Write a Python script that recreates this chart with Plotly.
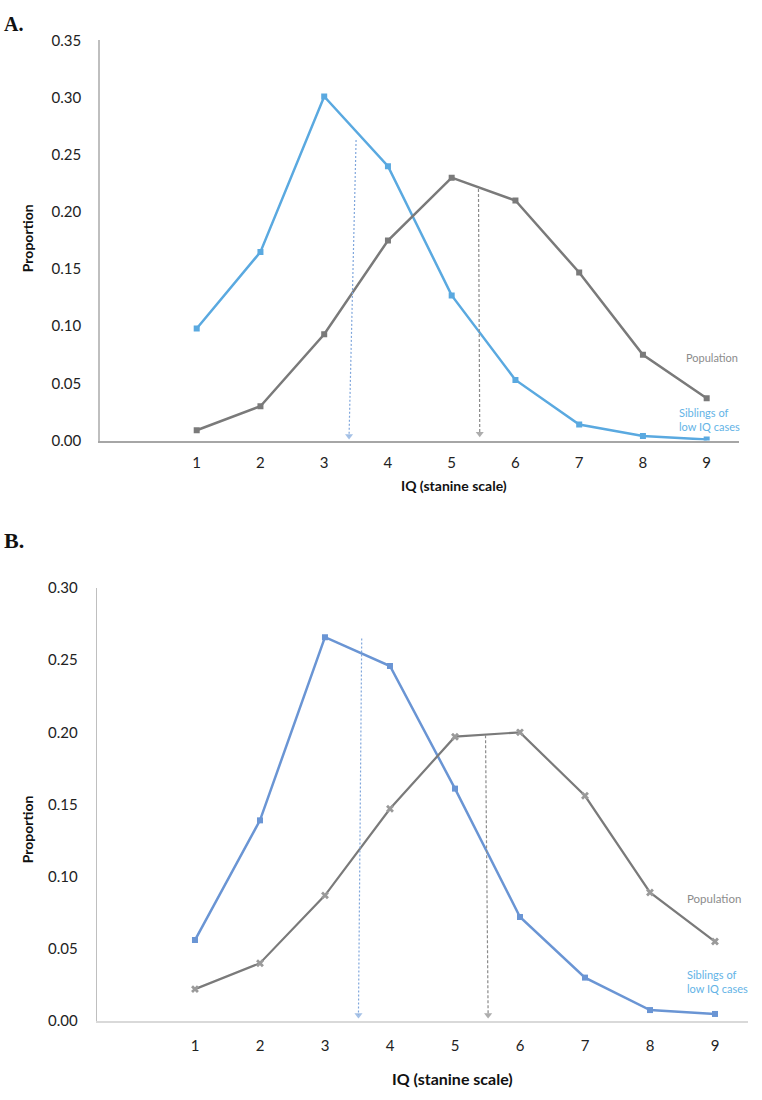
import plotly.graph_objects as go

W, H = 762, 1100

# ---------------- data ----------------
stanine = [1, 2, 3, 4, 5, 6, 7, 8, 9]
tick_text = ["1", "2", "3", "4", "5", "6", "7", "8", "9"]

# Panel A
a_siblings = [0.098, 0.165, 0.301, 0.240, 0.127, 0.053, 0.014, 0.004, 0.001]
a_population = [0.009, 0.030, 0.093, 0.175, 0.230, 0.210, 0.147, 0.075, 0.037]
a_sib_mean_x = [3.50, 3.39]
a_sib_mean_y = [0.263, 0.004]
a_pop_mean_x = [5.42, 5.44]
a_pop_mean_y = [0.220, 0.006]
a_yticks = [0.00, 0.05, 0.10, 0.15, 0.20, 0.25, 0.30, 0.35]

# Panel B
b_siblings = [0.056, 0.139, 0.266, 0.246, 0.161, 0.072, 0.030, 0.0075, 0.0048]
b_population = [0.022, 0.040, 0.087, 0.147, 0.197, 0.200, 0.156, 0.089, 0.055]
b_sib_mean_x = [3.565, 3.515]
b_sib_mean_y = [0.265, 0.004]
b_pop_mean_x = [5.47, 5.51]
b_pop_mean_y = [0.198, 0.004]
b_yticks = [0.00, 0.05, 0.10, 0.15, 0.20, 0.25, 0.30]

# ---------------- styles ----------------
FONT = "Lato"
GRAY = "#7a7a7a"
BLUE_A = "#5aa9e0"
BLUE_B = "#6a95d4"
LABEL_BLUE = "#63b3e6"
LABEL_GRAY = "#8c8c8c"
ARROW_BLUE = "#7fa6dc"
ARROW_GRAY = "#8a8a8a"


def px(x):
    return x / W


def py(y):
    return 1 - y / H


fig = go.Figure()


def add_series(x, y, color, width, symbol, msize, mcolor, xa, ya):
    fig.add_trace(go.Scatter(x=x, y=y, mode="lines+markers",
                             line=dict(color=color, width=width),
                             marker=dict(symbol=symbol, size=msize, color=mcolor,
                                         line=dict(width=0)),
                             xaxis=xa, yaxis=ya, showlegend=False))


def add_arrow(x, y, color, dash, xa, ya):
    fig.add_trace(go.Scatter(x=x, y=y, mode="lines+markers",
                             line=dict(color=color, width=1.2, dash=dash),
                             marker=dict(symbol=["circle", "triangle-down"], size=[0, 7],
                                         color=color, line=dict(width=0)),
                             xaxis=xa, yaxis=ya, showlegend=False))


add_series(stanine, a_siblings, BLUE_A, 2.5, "square", 6, BLUE_A, "x", "y")
add_series(stanine, a_population, GRAY, 2.5, "square", 6, GRAY, "x", "y")
add_arrow(a_sib_mean_x, a_sib_mean_y, ARROW_BLUE, "2px,2px", "x", "y")
add_arrow(a_pop_mean_x, a_pop_mean_y, ARROW_GRAY, "3px,2px", "x", "y")

add_series(stanine, b_siblings, BLUE_B, 2.5, "square", 6, BLUE_B, "x2", "y2")
add_series(stanine, b_population, GRAY, 2.2, "x", 7, "#9a9a9a", "x2", "y2")
add_arrow(b_sib_mean_x, b_sib_mean_y, ARROW_BLUE, "2px,2px", "x2", "y2")
add_arrow(b_pop_mean_x, b_pop_mean_y, ARROW_GRAY, "3px,2px", "x2", "y2")

tickfont = dict(family=FONT, size=15, color="#222222")

fig.update_layout(
    width=W, height=H,
    margin=dict(l=0, r=0, t=0, b=0),
    paper_bgcolor="white", plot_bgcolor="white",
    xaxis=dict(domain=[px(100), px(739)], range=[-0.517, 9.507],
               tickvals=stanine, ticktext=tick_text, showgrid=False, zeroline=False,
               showline=True, linecolor="#a6a6a6", linewidth=1.5, ticks="",
               tickfont=tickfont, ticklabelstandoff=8, anchor="y"),
    yaxis=dict(domain=[py(437.7), py(31)], range=[0, 0.35],
               tickvals=a_yticks, tickformat=".2f", showgrid=False, zeroline=False,
               showline=True, linecolor="#bfbfbf", linewidth=1.5, ticks="",
               tickfont=tickfont, ticklabelstandoff=14, anchor="x"),
    xaxis2=dict(domain=[px(96.7), px(748)], range=[-0.512, 9.508],
                tickvals=stanine, ticktext=tick_text, showgrid=False, zeroline=False,
                showline=True, linecolor="#d9d9d9", linewidth=1.5, ticks="",
                tickfont=tickfont, ticklabelstandoff=10, anchor="y2"),
    yaxis2=dict(domain=[py(1027.7), py(587.7)], range=[0, 0.30],
                tickvals=b_yticks, tickformat=".2f", showgrid=False, zeroline=False,
                showline=True, linecolor="#bfbfbf", linewidth=1.2, ticks="",
                tickfont=tickfont, ticklabelstandoff=15, anchor="x2"),
)

annotations = [
    # panel letters
    dict(text="<b>A.</b>", x=px(2), y=py(14), xanchor="left", yanchor="middle",
         font=dict(family="Liberation Serif", size=20, color="#111111")),
    dict(text="<b>B.</b>", x=px(2), y=py(539), xanchor="left", yanchor="middle",
         font=dict(family="Liberation Serif", size=22, color="#111111")),
    # axis titles
    dict(text="<b>Proportion</b>", x=px(27), y=py(232), textangle=-90,
         xanchor="center", yanchor="middle",
         font=dict(family=FONT, size=14, color="#111111")),
    dict(text="<b>IQ (stanine scale)</b>", x=px(454), y=py(483),
         xanchor="center", yanchor="middle",
         font=dict(family=FONT, size=14, color="#111111")),
    dict(text="<b>Proportion</b>", x=px(27), y=py(833), textangle=-90,
         xanchor="center", yanchor="middle",
         font=dict(family=FONT, size=14, color="#111111")),
    dict(text="<b>IQ (stanine scale)</b>", x=px(452), y=py(1086),
         xanchor="center", yanchor="middle",
         font=dict(family=FONT, size=16, color="#111111")),
]
for a in annotations:
    a.update(xref="paper", yref="paper", showarrow=False)

series_labels = [
    dict(text="Population", x=8.64, y=0.0729, xref="x", yref="y",
         font=dict(family=FONT, size=11, color=LABEL_GRAY)),
    dict(text="Siblings of<br>low IQ cases", x=8.53, y=0.0188, xref="x", yref="y",
         font=dict(family=FONT, size=11, color=LABEL_BLUE)),
    dict(text="Population", x=8.54, y=0.0847, xref="x2", yref="y2",
         font=dict(family=FONT, size=11.5, color=LABEL_GRAY)),
    dict(text="Siblings of<br>low IQ cases", x=8.54, y=0.027, xref="x2", yref="y2",
         font=dict(family=FONT, size=11, color=LABEL_BLUE)),
]
for a in series_labels:
    a.update(showarrow=False, xanchor="left", yanchor="middle", align="left")

fig.update_layout(annotations=annotations + series_labels)

# remove the browser's default 8px body margin so the figure fills the page exactly
fig.write_html("out.html",
               config={"displayModeBar": False},
               post_script="document.body.style.margin='0';document.body.style.overflow='hidden';")
